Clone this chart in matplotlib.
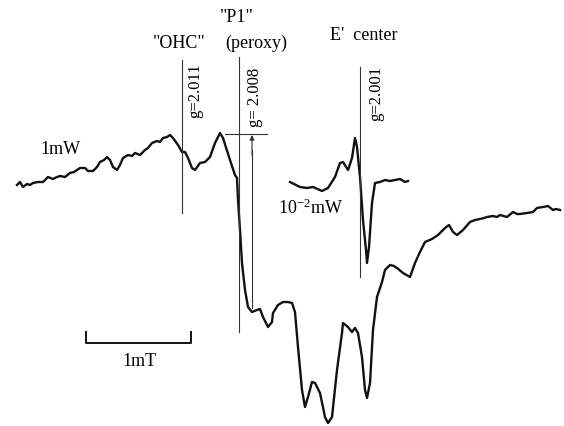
import matplotlib.pyplot as plt

plt.rcParams['font.family'] = ['Liberation Serif', 'DejaVu Serif']
plt.rcParams['mathtext.default'] = 'regular'

# main spectrum, 1 mW (field position, signal level; screen units, y down)
field_1mw = [17, 20, 23, 27, 30, 33, 38, 43, 48, 53, 57, 60, 65, 70, 74, 77, 80,
             85, 88, 93, 97, 100, 104, 107, 110, 113, 117, 120, 123, 128, 132,
             135, 140, 145, 148, 152, 157, 160, 163, 167, 170, 173, 178, 182,
             185, 188, 192, 195, 200, 205, 210, 215, 220, 223, 230, 235, 237,
             238, 240, 242, 245, 248, 252, 257, 260, 263, 268, 272, 273, 278,
             283, 288, 292, 295, 298, 302, 305, 308, 312, 315, 320, 325, 328,
             332, 337, 342, 343, 348, 352, 355, 358, 362, 365, 367, 370, 373,
             377, 382, 385, 390, 394, 397, 403, 410, 415, 420, 425, 432, 438,
             445, 449, 453, 457, 463, 470, 475, 480, 484, 487, 493, 497, 500,
             507, 513, 517, 520, 527, 533, 537, 543, 548, 553, 556, 560]
signal_1mw = [185, 182, 187, 184, 185, 183, 182, 182, 177, 179, 177, 176, 177,
              173, 172, 170, 168, 168, 171, 171, 167, 162, 160, 157, 160, 167,
              170, 165, 158, 155, 156, 153, 155, 150, 148, 143, 141, 142, 138,
              137, 135, 138, 145, 152, 152, 158, 168, 170, 163, 162, 157, 143,
              133, 138, 160, 175, 178, 200, 230, 263, 290, 307, 312, 310, 309,
              317, 327, 322, 313, 305, 302, 302, 303, 312, 347, 390, 407, 397,
              382, 383, 393, 417, 423, 417, 370, 333, 323, 327, 332, 328, 333,
              357, 390, 398, 383, 330, 297, 282, 270, 265, 266, 268, 273, 277,
              263, 252, 242, 239, 235, 228, 225, 232, 235, 230, 222, 220, 219,
              218, 217, 216, 217, 215, 217, 212, 214, 214, 213, 212, 208, 207,
              206, 210, 209, 210]

# inset spectrum, 10^-2 mW (E' centre)
field_001mw = [290, 292, 300, 307, 313, 322, 328, 335, 340, 343, 348, 352, 355,
               357, 360, 363, 366, 367, 369, 372, 375, 380, 385, 390, 395, 400,
               405, 408]
signal_001mw = [182, 183, 187, 188, 187, 191, 188, 177, 163, 162, 170, 158, 138,
                147, 177, 220, 250, 263, 247, 203, 183, 182, 180, 181, 180, 179,
                182, 181]

fig = plt.figure(figsize=(5.64, 4.26), dpi=100)
ax = fig.add_axes([0, 0, 1, 1])
ax.set_xlim(0, 564)
ax.set_ylim(426, 0)
ax.axis('off')

ax.plot(field_1mw, signal_1mw, color='#111111', lw=1.7, solid_joinstyle='round')
ax.plot(field_001mw, signal_001mw, color='#111111', lw=1.7, solid_joinstyle='round')

# g-value markers
thin = dict(color='#333333', lw=0.8)
ax.plot([182, 182], [60, 213], **thin)
ax.plot([239, 239], [57, 332], **thin)
ax.plot([360, 360], [67, 277], **thin)
ax.plot([225, 267], [134, 134], **thin)
ax.plot([252, 252], [150, 308], **thin)
ax.annotate('', xy=(252, 135), xytext=(252, 155),
            arrowprops=dict(arrowstyle='-|>', color='#333333', lw=0.8,
                            mutation_scale=7, shrinkA=0, shrinkB=0))

ax.text(195, 91, 'g=2.011', rotation=90, ha='center', va='center', fontsize=12)
ax.text(255, 97, 'g= 2.008', rotation=90, ha='center', va='center', fontsize=12)
ax.text(376, 93, 'g=2.001', rotation=90, ha='center', va='center', fontsize=12)

# species labels
ax.text(179, 43, '"OHC"', ha='center', va='center', fontsize=13)
ax.text(237, 18, '"P1"', ha='center', va='center', fontsize=13)
ax.text(256, 43, '(peroxy)', ha='center', va='center', fontsize=13)
ax.text(364, 35, "E'  center", ha='center', va='center', fontsize=13)

# power labels
ax.text(60, 150, '1mW', ha='center', va='center', fontsize=13)
ax.text(278, 208, r'10$^{-2}$mW', ha='left', va='center', fontsize=13)

# 1 mT scale bar
ax.plot([86, 86, 191, 191], [332, 343, 343, 332], color='#111111', lw=1.4)
ax.text(139, 362, '1mT', ha='center', va='center', fontsize=13)

fig.savefig('out.png', dpi=100)
